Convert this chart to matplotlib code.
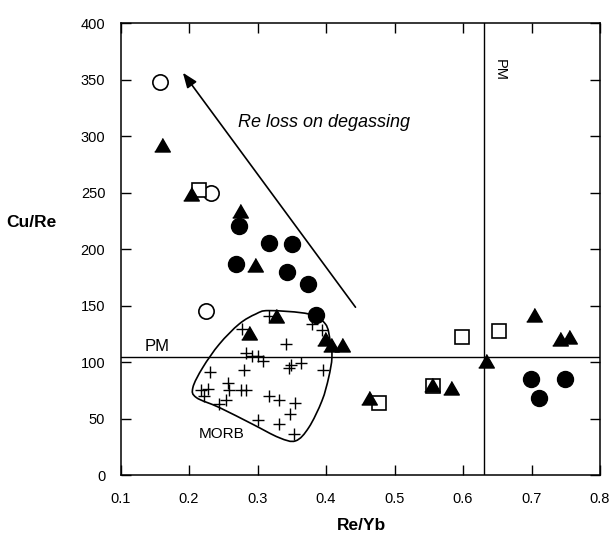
import numpy as np
import matplotlib
matplotlib.use("Agg")
import matplotlib.pyplot as plt
from matplotlib.path import Path
from matplotlib.patches import PathPatch

plt.rcParams['font.family'] = ['Liberation Sans', 'DejaVu Sans']

# Re/Yb vs Cu/Re data by sample group
filled_circles_x = [0.273, 0.316, 0.351, 0.269, 0.343, 0.374, 0.386, 0.699, 0.749, 0.711]
filled_circles_y = [220, 205, 204, 187, 180, 169, 142, 85, 85, 68]

open_circles_x = [0.158, 0.232, 0.225]
open_circles_y = [348, 250, 145]

open_squares_x = [0.215, 0.477, 0.556, 0.598, 0.652]
open_squares_y = [252, 64, 79, 122, 127]

triangles_x = [0.160, 0.203, 0.274, 0.296, 0.287, 0.327, 0.399, 0.407, 0.424,
               0.463, 0.554, 0.582, 0.634, 0.703, 0.741, 0.755]
triangles_y = [290, 247, 232, 184.5, 124, 139, 119, 113, 113,
               66, 78, 75, 99, 140, 119, 120]

morb_x = [0.317, 0.278, 0.380, 0.394, 0.342, 0.283, 0.292, 0.300, 0.308, 0.231,
          0.280, 0.346, 0.349, 0.363, 0.395, 0.257, 0.258, 0.217, 0.227, 0.222,
          0.276, 0.283, 0.316, 0.331, 0.355, 0.244, 0.254, 0.347, 0.301, 0.331,
          0.353]
morb_y = [141, 129, 134, 128, 116, 107.6, 105.5, 105.5, 100.5, 91,
          93, 95, 97, 99, 93, 81, 75, 75, 76, 70,
          75, 75, 70, 66, 64, 63, 66, 54, 49, 45.5,
          36]

# MORB field outline vertices (closed, smoothed below)
morb_field_x = [0.3168, 0.3748, 0.399, 0.406, 0.4086, 0.4038, 0.394, 0.3748, 0.3555,
                0.3313, 0.2926, 0.2443, 0.2105, 0.2056, 0.2201, 0.2443, 0.2733, 0.2975]
morb_field_y = [145.5, 142.5, 133.7, 118.8, 104, 86.2, 65.6, 42, 30.2,
                33.1, 45, 59.7, 68.6, 77.4, 95.2, 115.9, 133.7, 142.5]

pm_cu_re = 104
pm_re_yb = 0.63

arrow_tail = (0.443, 148.5)
arrow_head = (0.191, 356)

x_ticks = [0.1, 0.2, 0.3, 0.4, 0.5, 0.6, 0.7, 0.8]
y_ticks = [0, 50, 100, 150, 200, 250, 300, 350, 400]

fig = plt.figure(figsize=(6.12, 5.38), dpi=100)
ax = fig.add_axes([0.197, 0.1171, 0.7834, 0.8401])
ax.set_xlim(0.1, 0.8)
ax.set_ylim(0, 400)

# Primitive mantle reference lines
ax.axhline(pm_cu_re, color='black', lw=1.0, zorder=1)
ax.axvline(pm_re_yb, color='black', lw=1.0, zorder=1)

# Smooth closed outline of the MORB field (Catmull-Rom -> cubic Bezier)
pts = np.column_stack([morb_field_x, morb_field_y])
n = len(pts)
verts = [pts[0]]
codes = [Path.MOVETO]
for i in range(n):
    p0, p1, p2, p3 = pts[(i - 1) % n], pts[i], pts[(i + 1) % n], pts[(i + 2) % n]
    c1 = p1 + (p2 - p0) / 6.0
    c2 = p2 - (p3 - p1) / 6.0
    verts += [c1, c2, p2]
    codes += [Path.CURVE4] * 3
ax.add_patch(PathPatch(Path(verts, codes), facecolor='none', edgecolor='black',
                       lw=1.2, zorder=2))

tri = [(-1, -0.577), (1, -0.577), (0, 1.155)]

ax.plot(morb_x, morb_y, ls='none', marker='+', ms=8, mew=1.0, color='black', zorder=3)
ax.plot(open_circles_x, open_circles_y, ls='none', marker='o', ms=11, mfc='white',
        mec='black', mew=1.2, zorder=4)
ax.plot(open_squares_x, open_squares_y, ls='none', marker='s', ms=10.5, mfc='white',
        mec='black', mew=1.2, zorder=4)
ax.plot(filled_circles_x, filled_circles_y, ls='none', marker='o', ms=11.5,
        color='black', zorder=5)
ax.plot(triangles_x, triangles_y, ls='none', marker=tri, ms=13, color='black', zorder=5)

# Degassing trend arrow
ax.annotate('', xy=arrow_head, xytext=arrow_tail,
            arrowprops=dict(arrowstyle='-|>,head_length=0.9,head_width=0.35',
                            color='black', lw=1.2, shrinkA=0, shrinkB=0), zorder=3)

ax.text(0.397, 312, 'Re loss on degassing', fontsize=13, style='italic',
        ha='center', va='center')
ax.text(0.154, 113.5, 'PM', fontsize=12, ha='center', va='center')
ax.text(0.654, 358, 'PM', fontsize=10.5, rotation=-90, ha='center', va='center')
ax.text(0.2472, 36, 'MORB', fontsize=11, ha='center', va='center')

ax.set_xticks(x_ticks)
ax.set_xticklabels([f'{v:.1f}' for v in x_ticks])
ax.set_yticks(y_ticks)
ax.set_yticklabels([str(v) for v in y_ticks])
ax.tick_params(direction='in', length=7, width=1.0, top=True, right=True,
               labelsize=10.5)
ax.tick_params(axis='x', pad=12.5)
ax.tick_params(axis='y', pad=11)
for s in ax.spines.values():
    s.set_linewidth(1.1)

fig.text(31.7 / 612, 1 - 222.7 / 538, 'Cu/Re', fontsize=12.5, fontweight='bold',
         ha='center', va='center')
fig.text(361 / 612, 1 - 526 / 538, 'Re/Yb', fontsize=12.5, fontweight='bold',
         ha='center', va='center')

fig.savefig('out.png', dpi=100)
